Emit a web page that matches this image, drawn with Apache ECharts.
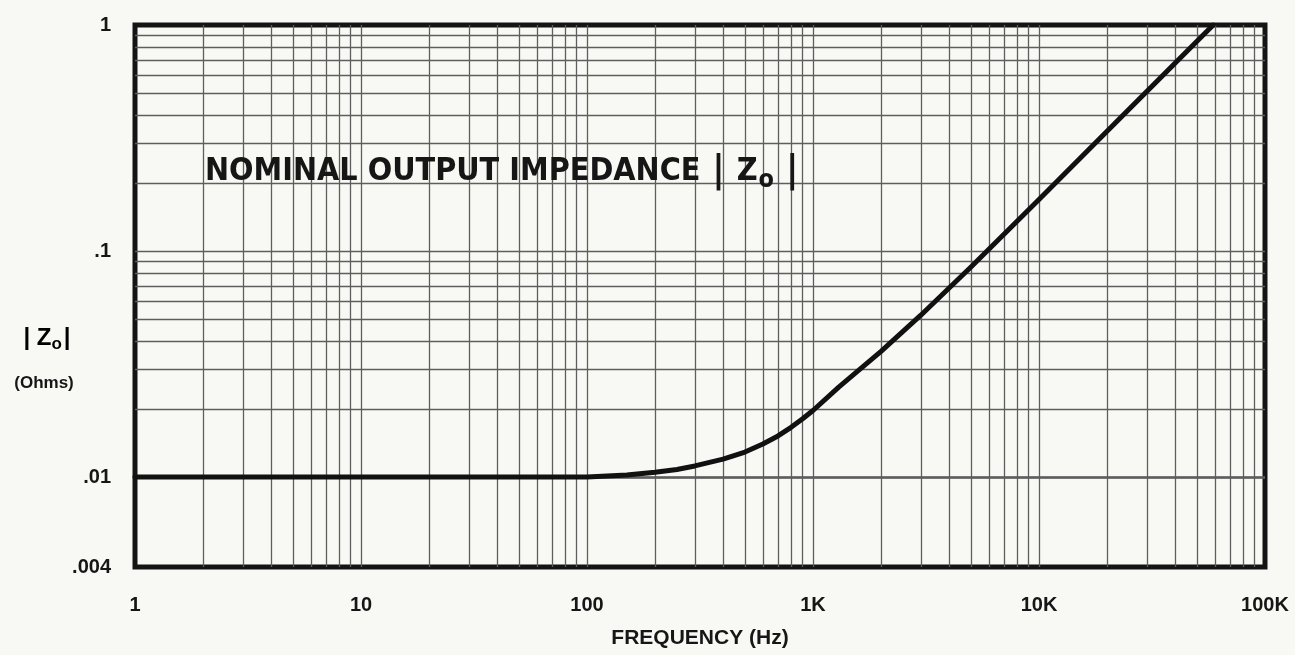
<!DOCTYPE html>
<html>
<head>
  <meta charset="utf-8">
  <title>Nominal output impedance</title>
  <script src="https://cdn.jsdelivr.net/npm/echarts@6/dist/echarts.min.js"></script>
  <style>
    html, body { margin: 0; padding: 0; background: #f8f8f4; }
    #chart { width: 1295px; height: 655px; }
  </style>
</head>
<body>
  <div id="chart"></div>
  <script>
    // curve (Hz, ohms)
    var freqHz = [1, 10, 100, 150, 200, 250, 300, 400, 500, 600, 700, 800, 900, 1000, 1300, 1600, 2000, 3000, 5000, 10000, 20000, 59000];
    var zOhms = [0.01, 0.01, 0.01, 0.0102, 0.0105, 0.0108, 0.0112, 0.0120, 0.0129, 0.0140, 0.0152, 0.0166, 0.0181, 0.0197, 0.0250, 0.0298, 0.0360, 0.0520, 0.0850, 0.169, 0.339, 1.0];

    // axis labels
    var xTickValues = [1, 10, 100, 1000, 10000, 100000];
    var xTickLabels = ['1', '10', '100', '1K', '10K', '100K'];
    var yTickValues = [0.004, 0.01, 0.1, 1];
    var yTickLabels = ['.004', '.01', '.1', '1'];

    // log paper grid: 1..9 in every decade
    var xDecades = [1, 10, 100, 1000, 10000];
    var yDecades = [0.001, 0.01, 0.1];
    var steps = [1, 2, 3, 4, 5, 6, 7, 8, 9];

    var xGrid = [];
    xDecades.forEach(function (d) {
      steps.forEach(function (s) { if (d * s > 1) xGrid.push(d * s); });
    });
    var yGrid = [];
    yDecades.forEach(function (d) {
      steps.forEach(function (s) {
        var v = +(d * s).toPrecision(3);
        if (v > 0.004 && v < 1) yGrid.push(v);
      });
    });

    function pickLabel(values, labels) {
      return function (v) {
        for (var i = 0; i < values.length; i++) {
          if (Math.abs(v - values[i]) / values[i] < 1e-3) return labels[i];
        }
        return '';
      };
    }

    var ink = '#161616';
    var cond = '"DejaVu Sans Condensed", "Liberation Sans", sans-serif';
    var gridLine = { color: '#5e5e5e', width: 1.3, type: 'solid' };
    var lbl = { fontFamily: 'Liberation Sans', fontWeight: 'bold', fontSize: 20, color: ink };

    var chart = echarts.init(document.getElementById('chart'));
    chart.setOption({
      backgroundColor: '#f8f8f4',
      animation: false,
      title: {
        left: 200,
        top: 145,
        text: '{a|NOMINAL OUTPUT IMPEDANCE}{b| | }{a|Z}{s|o}{b| |}',
        textStyle: {
          rich: {
            a: { fontFamily: cond, fontWeight: 'bold', fontSize: 32, color: ink },
            b: { fontFamily: cond, fontWeight: 'bold', fontSize: 38, color: ink },
            s: { fontFamily: cond, fontWeight: 'bold', fontSize: 25, color: ink, padding: [18, 0, 0, 1] }
          }
        }
      },
      graphic: [{
        type: 'text',
        x: 47, y: 338,
        style: {
          text: '{a|| Z}{s|o}{a||}',
          align: 'center', verticalAlign: 'middle',
          rich: {
            a: { fontFamily: 'Liberation Sans', fontWeight: 'bold', fontSize: 24, color: ink },
            s: { fontFamily: 'Liberation Sans', fontWeight: 'bold', fontSize: 17, color: ink, padding: [12, 2, 0, 0] }
          }
        }
      }, {
        type: 'text',
        x: 44, y: 383,
        style: {
          text: '(Ohms)',
          align: 'center', verticalAlign: 'middle',
          fontFamily: 'Liberation Sans', fontWeight: 'bold', fontSize: 17, fill: ink
        }
      }],
      grid: {
        left: 135, right: 30, top: 25, bottom: 88,
        show: true, borderColor: '#141414', borderWidth: 5, backgroundColor: 'transparent'
      },
      xAxis: {
        type: 'log', logBase: 10, min: 1, max: 100000,
        name: 'FREQUENCY (Hz)', nameLocation: 'middle', nameGap: 61,
        nameTextStyle: { fontFamily: 'Liberation Sans', fontWeight: 'bold', fontSize: 21, color: ink },
        axisLine: { show: false }, axisTick: { show: false }, splitLine: { show: false },
        axisLabel: Object.assign({ margin: 28, formatter: pickLabel(xTickValues, xTickLabels) }, lbl)
      },
      yAxis: {
        type: 'log', logBase: 10, min: 0.004, max: 1,
        axisLine: { show: false }, axisTick: { show: false }, splitLine: { show: false },
        axisLabel: Object.assign({ margin: 24, showMinLabel: true, showMaxLabel: true, formatter: pickLabel(yTickValues, yTickLabels) }, lbl)
      },
      series: [{
        name: 'grid',
        type: 'line',
        data: [],
        silent: true,
        markLine: {
          silent: true, symbol: 'none', animation: false,
          label: { show: false },
          lineStyle: gridLine,
          data: xGrid.map(function (v) { return { xAxis: v }; })
            .concat(yGrid.map(function (v) { return { yAxis: v }; }))
        }
      }, {
        name: '|Zo|',
        type: 'line',
        data: freqHz.map(function (f, i) { return [f, zOhms[i]]; }),
        smooth: false,
        showSymbol: false,
        lineStyle: { color: '#111', width: 5, join: 'round', cap: 'round' },
        z: 5
      }]
    });
  </script>
</body>
</html>
